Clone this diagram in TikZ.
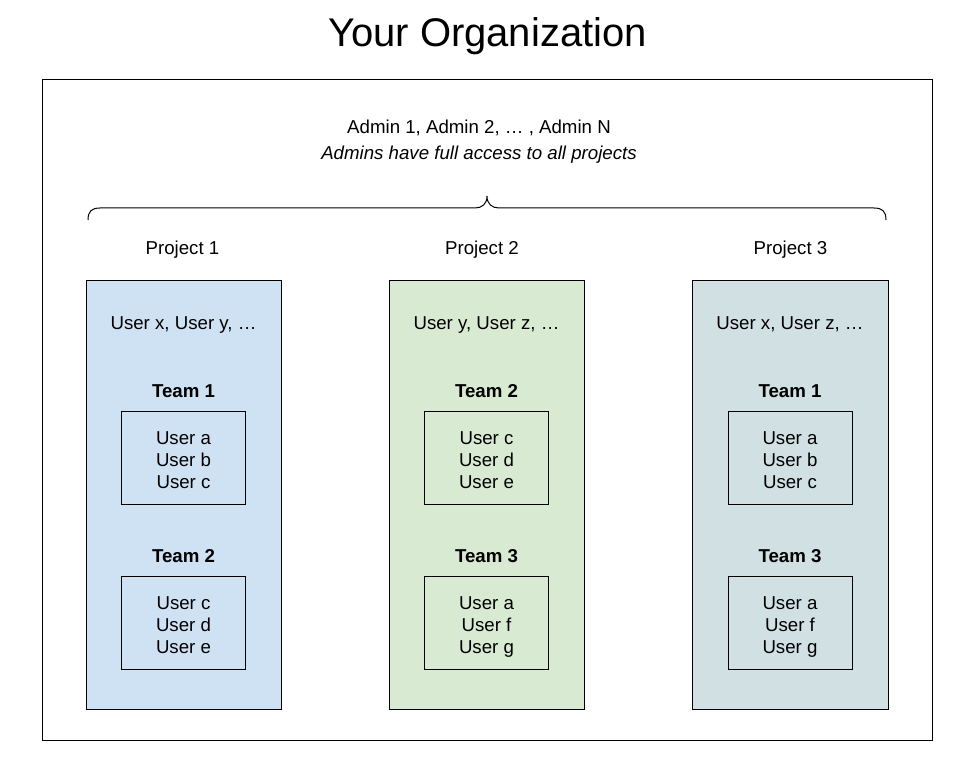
\documentclass[tikz,border=0pt]{standalone}
\usepackage{fontspec}
\setmainfont{Liberation Sans}
\definecolor{pblue}{HTML}{CFE2F3}
\definecolor{pgreen}{HTML}{D9EAD3}
\definecolor{pgrey}{HTML}{D0E0E3}
\begin{document}
\begin{tikzpicture}[x=1pt,y=-1pt,
  txt/.style={inner sep=0pt,anchor=base,font=\fontsize{18.67}{22}\selectfont},
  boldtxt/.style={txt,font=\fontsize{18.67}{22}\selectfont\bfseries},
  projbox/.style={draw=black,line width=1pt},
  teambox/.style={draw=black,line width=1pt}]
\useasboundingbox (0,0) rectangle (975,767);
\node[inner sep=0pt,anchor=base,font=\fontsize{40}{46}\selectfont] (title) at (487.5,47) {Your Organization};
\draw[line width=1pt] (42,80) rectangle (932,740);
\node[txt] (admins) at (479,133.5) {Admin 1, Admin 2, … , Admin N};
\node[txt,font=\fontsize{18.67}{22}\selectfont\itshape] (note) at (479,160) {Admins have full access to all projects};
\draw[line width=1pt] (88,220) .. controls (88,211) and (92,208) .. (100,208) -- (475,208)
  .. controls (482,208) and (487,204) .. (487,196)
  .. controls (487,204) and (492,208) .. (499,208) -- (874,208)
  .. controls (882,208) and (886,211) .. (886,220);
% projects
\foreach \id/\x/\lx/\xa/\xb/\col/\users/\ta/\tb/\ua/\ub/\uc/\va/\vb/\vc in {
  1/183.5/182.5/86/281/pblue/{User x, User y, …}/Team 1/Team 2/User a/User b/User c/User c/User d/User e,
  2/486.5/482/389/584/pgreen/{User y, User z, …}/Team 2/Team 3/User c/User d/User e/User a/User f/User g,
  3/790/790.5/692/888/pgrey/{User x, User z, …}/Team 1/Team 3/User a/User b/User c/User a/User f/User g}{
  \node[txt] (plabel\id) at (\lx,255) {Project \id};
  \fill[\col] (\xa,281) rectangle (\xb,709);
  \draw[projbox] (\xa,281) rectangle (\xb,709);
  \node[txt] (users\id) at (\x,330) {\users};
  \node[boldtxt] (teamA\id) at (\x,397.5) {\ta};
  \draw[teambox] (\x-62,411) rectangle (\x+62,504);
  \node[txt] (a1\id) at (\x,444) {\ua};
  \node[txt] (a2\id) at (\x,466) {\ub};
  \node[txt] (a3\id) at (\x,488) {\uc};
  \node[boldtxt] (teamB\id) at (\x,562.5) {\tb};
  \draw[teambox] (\x-62,576) rectangle (\x+62,669);
  \node[txt] (b1\id) at (\x,609) {\va};
  \node[txt] (b2\id) at (\x,631) {\vb};
  \node[txt] (b3\id) at (\x,653) {\vc};
}
\end{tikzpicture}
\end{document}
